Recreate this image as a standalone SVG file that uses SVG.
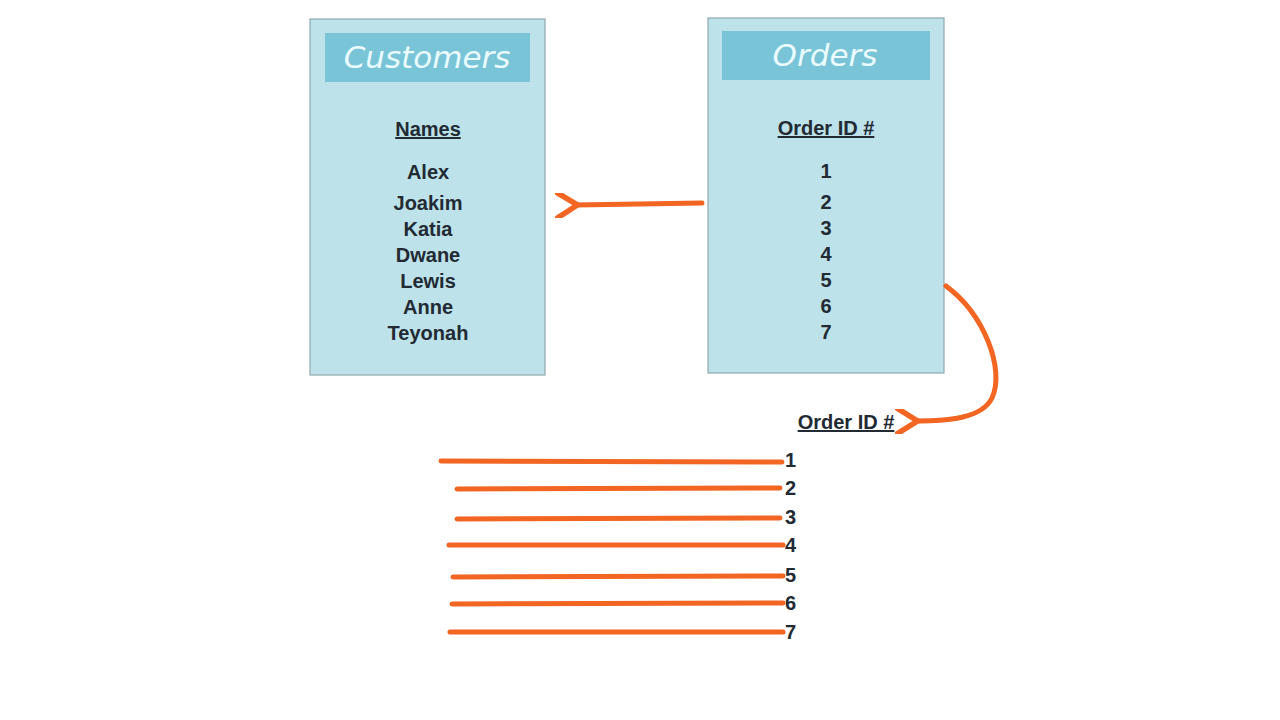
<svg xmlns="http://www.w3.org/2000/svg" width="1280" height="720" viewBox="0 0 1280 720">
<style>
.box{fill:#bde2ea;stroke:#8fa9b0;stroke-width:1.2}
.hdr{fill:#79c4d6}
.ttl{font-family:"DejaVu Sans","Liberation Sans",sans-serif;font-style:italic;font-size:31px;fill:#eafcff;text-anchor:middle}
.t{font-family:"Liberation Sans",Arial,sans-serif;font-weight:bold;font-size:20px;fill:#222a33;text-anchor:middle}
.u{text-decoration:underline}
.n{font-family:"Liberation Sans",Arial,sans-serif;font-weight:bold;font-size:20px;fill:#222a33}
.c{stroke:#f26522;stroke-width:5;fill:none;stroke-linecap:round}
</style>
<defs>
<marker id="ah" viewBox="0 0 10 10" refX="2" refY="5" markerWidth="5" markerHeight="5" orient="auto-start-reverse">
<path d="M9,0 L1,5 L9,10" fill="none" stroke="#f26522" stroke-width="2.2" stroke-linecap="round"/>
</marker>
</defs>
<rect width="1280" height="720" fill="#fff"/>
<g id="customers">
<rect class="box" x="310" y="19" width="235" height="356"/>
<rect class="hdr" x="325" y="33" width="205" height="49"/>
<text class="ttl" x="427" y="68">Customers</text>
<text class="t u" x="428" y="136">Names</text>
<text class="t" x="428" y="179">Alex</text>
<text class="t" x="428" y="210">Joakim</text>
<text class="t" x="428" y="236">Katia</text>
<text class="t" x="428" y="262">Dwane</text>
<text class="t" x="428" y="288">Lewis</text>
<text class="t" x="428" y="314">Anne</text>
<text class="t" x="428" y="340">Teyonah</text>
</g>
<g id="orders">
<rect class="box" x="708" y="18" width="236" height="355"/>
<rect class="hdr" x="722" y="31" width="208" height="49"/>
<text class="ttl" x="825" y="66">Orders</text>
<text class="t u" x="826" y="135">Order ID #</text>
<text class="t" x="826" y="178">1</text>
<text class="t" x="826" y="209">2</text>
<text class="t" x="826" y="235">3</text>
<text class="t" x="826" y="261">4</text>
<text class="t" x="826" y="287">5</text>
<text class="t" x="826" y="313">6</text>
<text class="t" x="826" y="339">7</text>
</g>
<g id="result">
<text class="t u" x="846" y="429">Order ID #</text>
<text class="n" x="785" y="467">1</text>
<text class="n" x="785" y="495">2</text>
<text class="n" x="785" y="524">3</text>
<text class="n" x="785" y="552">4</text>
<text class="n" x="785" y="582">5</text>
<text class="n" x="785" y="610">6</text>
<text class="n" x="785" y="639">7</text>
</g>
<g id="connectors">
<path class="c" d="M702,203 L575,205" marker-end="url(#ah)"/>
<path class="c" d="M946,286 C985,315 1005,370 992,398 C982,418 950,421 915,421" marker-end="url(#ah)"/>
<path class="c" d="M441,461 L782,462"/>
<path class="c" d="M457,489 L780,488"/>
<path class="c" d="M457,519 L780,518"/>
<path class="c" d="M449,545 L783,545"/>
<path class="c" d="M453,577 L783,576"/>
<path class="c" d="M452,604 L783,603"/>
<path class="c" d="M450,632 L783,632"/>
</g>
</svg>
